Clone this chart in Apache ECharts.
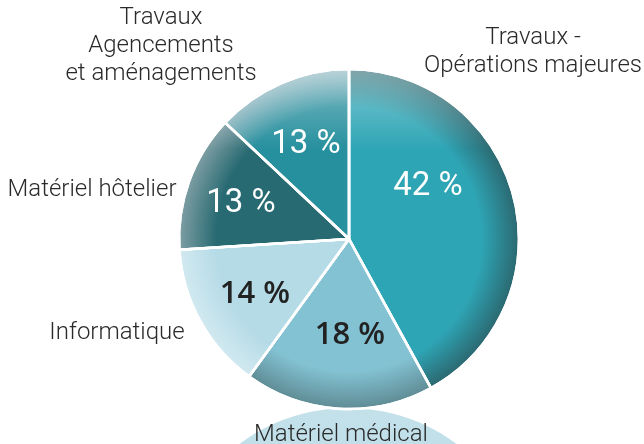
<!DOCTYPE html>
<html><head><meta charset="utf-8">
<script src="https://cdn.jsdelivr.net/npm/echarts@6/dist/echarts.min.js"></script>
<style>html,body{margin:0;padding:0;background:#fff}#c{width:644px;height:444px}</style>
</head><body><div id="c"></div>
<script>
const categories = ['Travaux -\nOpérations majeures', 'Matériel médical', 'Informatique', 'Matériel hôtelier', 'Travaux\nAgencements\net aménagements'];
const values = [42, 18, 14, 13, 13];
const baseColors = ['#2ea5b5', '#83c2d2', '#b5dbe7', '#286a72', '#27909e'];
const rimColors = ['#2b6870', '#5f8c95', '#d2e9f0', '#7e9ea4', '#8fb6c0'];
const pctColors = ['#ffffff', '#222222', '#222222', '#ffffff', '#ffffff'];
const pctFonts = ['Roboto', 'Open Sans', 'Open Sans', 'Roboto', 'Roboto'];
const pctWeights = [400, 600, 600, 400, 400];
const pctSizes = [33, 31, 31, 33, 33];
const pctPos = [[428, 187], [350, 335], [255, 294], [241, 204], [306, 145]];
const namePos = [[533, 52], [341, 435], [117, 333], [92, 190], [161, 46]];

const CX = 349, CY = 239, R = 170;
function grad(i) {
  return {type: 'radial', x: CX, y: CY, r: R, global: true,
    colorStops: [{offset: 0, color: baseColors[i]}, {offset: 0.78, color: baseColors[i]}, {offset: 1, color: rimColors[i]}]};
}
const chart = echarts.init(document.getElementById('c'), null, {renderer: 'canvas'});
chart.setOption({
  animation: false,
  graphic: [{
    type: 'circle', z: 0, silent: true,
    shape: {cx: 348, cy: 590, r: 182},
    style: {fill: {type: 'linear', x: 0, y: 0, x2: 0, y2: 1, colorStops: [{offset: 0, color: '#c4e1ea'}, {offset: 0.3, color: '#b9dce7'}, {offset: 1, color: '#d8edf3'}]}}
  }],
  series: [{
    type: 'pie', z: 2, center: [CX, CY], radius: R, startAngle: 90, clockwise: true,
    data: values.map((v, i) => ({value: v, name: categories[i], itemStyle: {color: grad(i)},
      label: {color: pctColors[i], fontFamily: pctFonts[i], fontWeight: pctWeights[i], fontSize: pctSizes[i]}})),
    itemStyle: {borderColor: '#ffffff', borderWidth: 2.5},
    label: {show: true, position: 'inside', formatter: '{c} %', fontFamily: 'Roboto', fontSize: 33, fontWeight: 400},
    labelLine: {show: false},
    labelLayout: p => ({x: pctPos[p.dataIndex][0], y: pctPos[p.dataIndex][1], align: 'center', verticalAlign: 'middle'}),
    emphasis: {disabled: true}
  }, {
    type: 'pie', z: 2, center: [CX, CY], radius: R, startAngle: 90, clockwise: true, silent: true,
    data: values.map((v, i) => ({value: v, name: categories[i]})),
    itemStyle: {borderColor: '#ffffff', borderWidth: 2.5,
      color: {type: 'linear', x: 0, y: CY - R, x2: 0, y2: CY - R + 80, global: true,
        colorStops: [{offset: 0, color: 'rgba(255,255,255,0.4)'}, {offset: 1, color: 'rgba(255,255,255,0)'}]}},
    label: {show: false}, labelLine: {show: false},
    emphasis: {disabled: true}
  }, {
    type: 'pie', z: 3, center: [CX, CY], radius: R, startAngle: 90, clockwise: true, silent: true,
    data: values.map((v, i) => ({value: v, name: categories[i]})),
    itemStyle: {color: 'rgba(0,0,0,0)'},
    label: {show: true, position: 'outside', formatter: '{b}', fontFamily: 'Roboto', fontSize: 24, fontWeight: 300,
      color: '#2a2a2a', lineHeight: 28, align: 'center', overflow: 'none', width: 400},
    labelLine: {show: false},
    labelLayout: p => ({x: namePos[p.dataIndex][0], y: namePos[p.dataIndex][1], align: 'center', verticalAlign: 'middle'}),
    emphasis: {disabled: true}
  }]
});
</script></body></html>
